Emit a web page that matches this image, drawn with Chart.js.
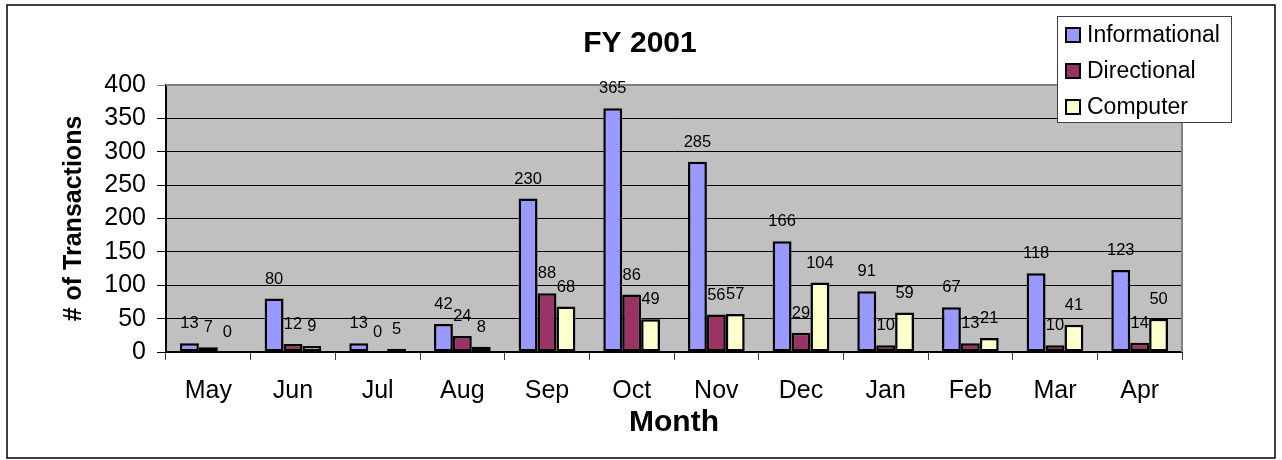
<!DOCTYPE html>
<html>
<head>
<meta charset="utf-8">
<script src="https://cdn.jsdelivr.net/npm/chart.js@4.4.1/dist/chart.umd.min.js"></script>
<style>
  html, body { margin: 0; padding: 0; background: #ffffff; }
  canvas { display: block; }
</style>
</head>
<body>
<canvas id="c" width="1282" height="460"></canvas>
<script>
const chartTitle = 'FY 2001';
const xAxisTitle = 'Month';
const yAxisTitle = '# of Transactions';
const months = ['May', 'Jun', 'Jul', 'Aug', 'Sep', 'Oct', 'Nov', 'Dec', 'Jan', 'Feb', 'Mar', 'Apr'];
const seriesNames = ['Informational', 'Directional', 'Computer'];
const informational = [13, 80, 13, 42, 230, 365, 285, 166, 91, 67, 118, 123];
const directional = [7, 12, 0, 24, 88, 86, 56, 29, 10, 13, 10, 14];
const computer = [0, 9, 5, 8, 68, 49, 57, 104, 59, 21, 41, 50];
const yMin = 0, yMax = 400, yStep = 50;

const FONT = "'Liberation Sans', Arial, sans-serif";
const colors = ['#9999FF', '#993366', '#FFFFCC'];

const plotBg = {
  id: 'plotBg',
  beforeDraw(chart) {
    const { ctx, chartArea: a } = chart;
    ctx.save();
    ctx.fillStyle = '#C0C0C0';
    ctx.fillRect(a.left, a.top, a.right - a.left, a.bottom - a.top);
    ctx.restore();
  },
  afterDatasetsDraw(chart) {
    const { ctx, chartArea: a } = chart;
    ctx.save();
    ctx.strokeStyle = '#808080';
    ctx.lineWidth = 2;
    ctx.beginPath();
    ctx.moveTo(a.left, a.top);
    ctx.lineTo(a.right, a.top);
    ctx.lineTo(a.right, a.bottom);
    ctx.stroke();
    ctx.restore();
  }
};

const valueLabels = {
  id: 'valueLabels',
  afterDatasetsDraw(chart) {
    const { ctx } = chart;
    ctx.save();
    ctx.font = '16.5px ' + FONT;
    ctx.fillStyle = '#000';
    ctx.textAlign = 'center';
    ctx.textBaseline = 'middle';
    chart.data.datasets.forEach((ds, i) => {
      const meta = chart.getDatasetMeta(i);
      meta.data.forEach((bar, j) => {
        ctx.fillText(String(ds.data[j]), bar.x, bar.y - 19.5);
      });
    });
    ctx.restore();
  }
};

const boxLegend = {
  id: 'boxLegend',
  afterDraw(chart) {
    const { ctx } = chart;
    ctx.save();
    // outer chart border
    ctx.strokeStyle = '#000';
    ctx.lineWidth = 1.5;
    ctx.strokeRect(7, 5, 1268, 453);
    // legend box
    const bx = 1057, by = 16, bw = 174, bh = 106;
    ctx.fillStyle = '#fff';
    ctx.fillRect(bx, by, bw, bh);
    ctx.strokeStyle = '#404040';
    ctx.lineWidth = 1;
    ctx.strokeRect(bx + 0.5, by + 0.5, bw, bh);
    ctx.font = '23px ' + FONT;
    ctx.textBaseline = 'middle';
    ctx.textAlign = 'left';
    chart.data.datasets.forEach((ds, i) => {
      const cy = 35 + i * 36;
      ctx.fillStyle = ds.backgroundColor;
      ctx.fillRect(1066, cy - 7, 14, 14);
      ctx.strokeStyle = '#000';
      ctx.lineWidth = 2;
      ctx.strokeRect(1066, cy - 7, 14, 14);
      ctx.fillStyle = '#000';
      ctx.fillText(ds.label, 1087, cy + 1);
    });
    ctx.restore();
  }
};

const seriesValues = [informational, directional, computer];

new Chart(document.getElementById('c'), {
  type: 'bar',
  data: {
    labels: months,
    datasets: seriesNames.map((name, i) => ({
      label: name,
      data: seriesValues[i],
      backgroundColor: colors[i],
      borderColor: '#000',
      borderWidth: 2.5,
      borderSkipped: false,
      categoryPercentage: 0.67,
      barPercentage: 1.0
    }))
  },
  options: {
    responsive: false,
    animation: false,
    layout: { padding: { left: 98, right: 100, top: 0, bottom: 0 } },
    plugins: {
      legend: { display: false },
      tooltip: { enabled: false },
      title: {
        display: true,
        text: chartTitle,
        color: '#000',
        font: { family: FONT, size: 30, weight: 'bold' },
        padding: { top: 26, bottom: 23 }
      }
    },
    scales: {
      x: {
        offset: true,
        grid: { display: true, drawOnChartArea: false, drawTicks: true, tickLength: 8, color: '#404040', lineWidth: 1 },
        border: { display: true, color: '#000', width: 2 },
        ticks: { color: '#000', font: { family: FONT, size: 25 }, padding: 16, maxRotation: 0, autoSkip: false },
        title: { display: true, text: xAxisTitle, color: '#000', font: { family: FONT, size: 30, weight: 'bold' }, padding: { top: 0, bottom: 19 } },
        afterFit(scale) { scale.height = 108; }
      },
      y: {
        min: yMin,
        max: yMax,
        ticks: { stepSize: yStep, color: '#000', font: { family: FONT, size: 25 }, padding: 11 },
        grid: {
          color: (c) => (c.tick && c.tick.value === yMax ? '#808080' : '#000'),
          lineWidth: 1,
          tickLength: 9,
          drawTicks: true
        },
        border: { display: true, color: '#000', width: 2 },
        title: { display: true, text: yAxisTitle, color: '#000', font: { family: FONT, size: 25, weight: 'bold' }, padding: { top: -39, bottom: 0 } },
        afterFit(scale) { scale.width = 68; }
      }
    }
  },
  plugins: [plotBg, valueLabels, boxLegend]
});
</script>
</body>
</html>
